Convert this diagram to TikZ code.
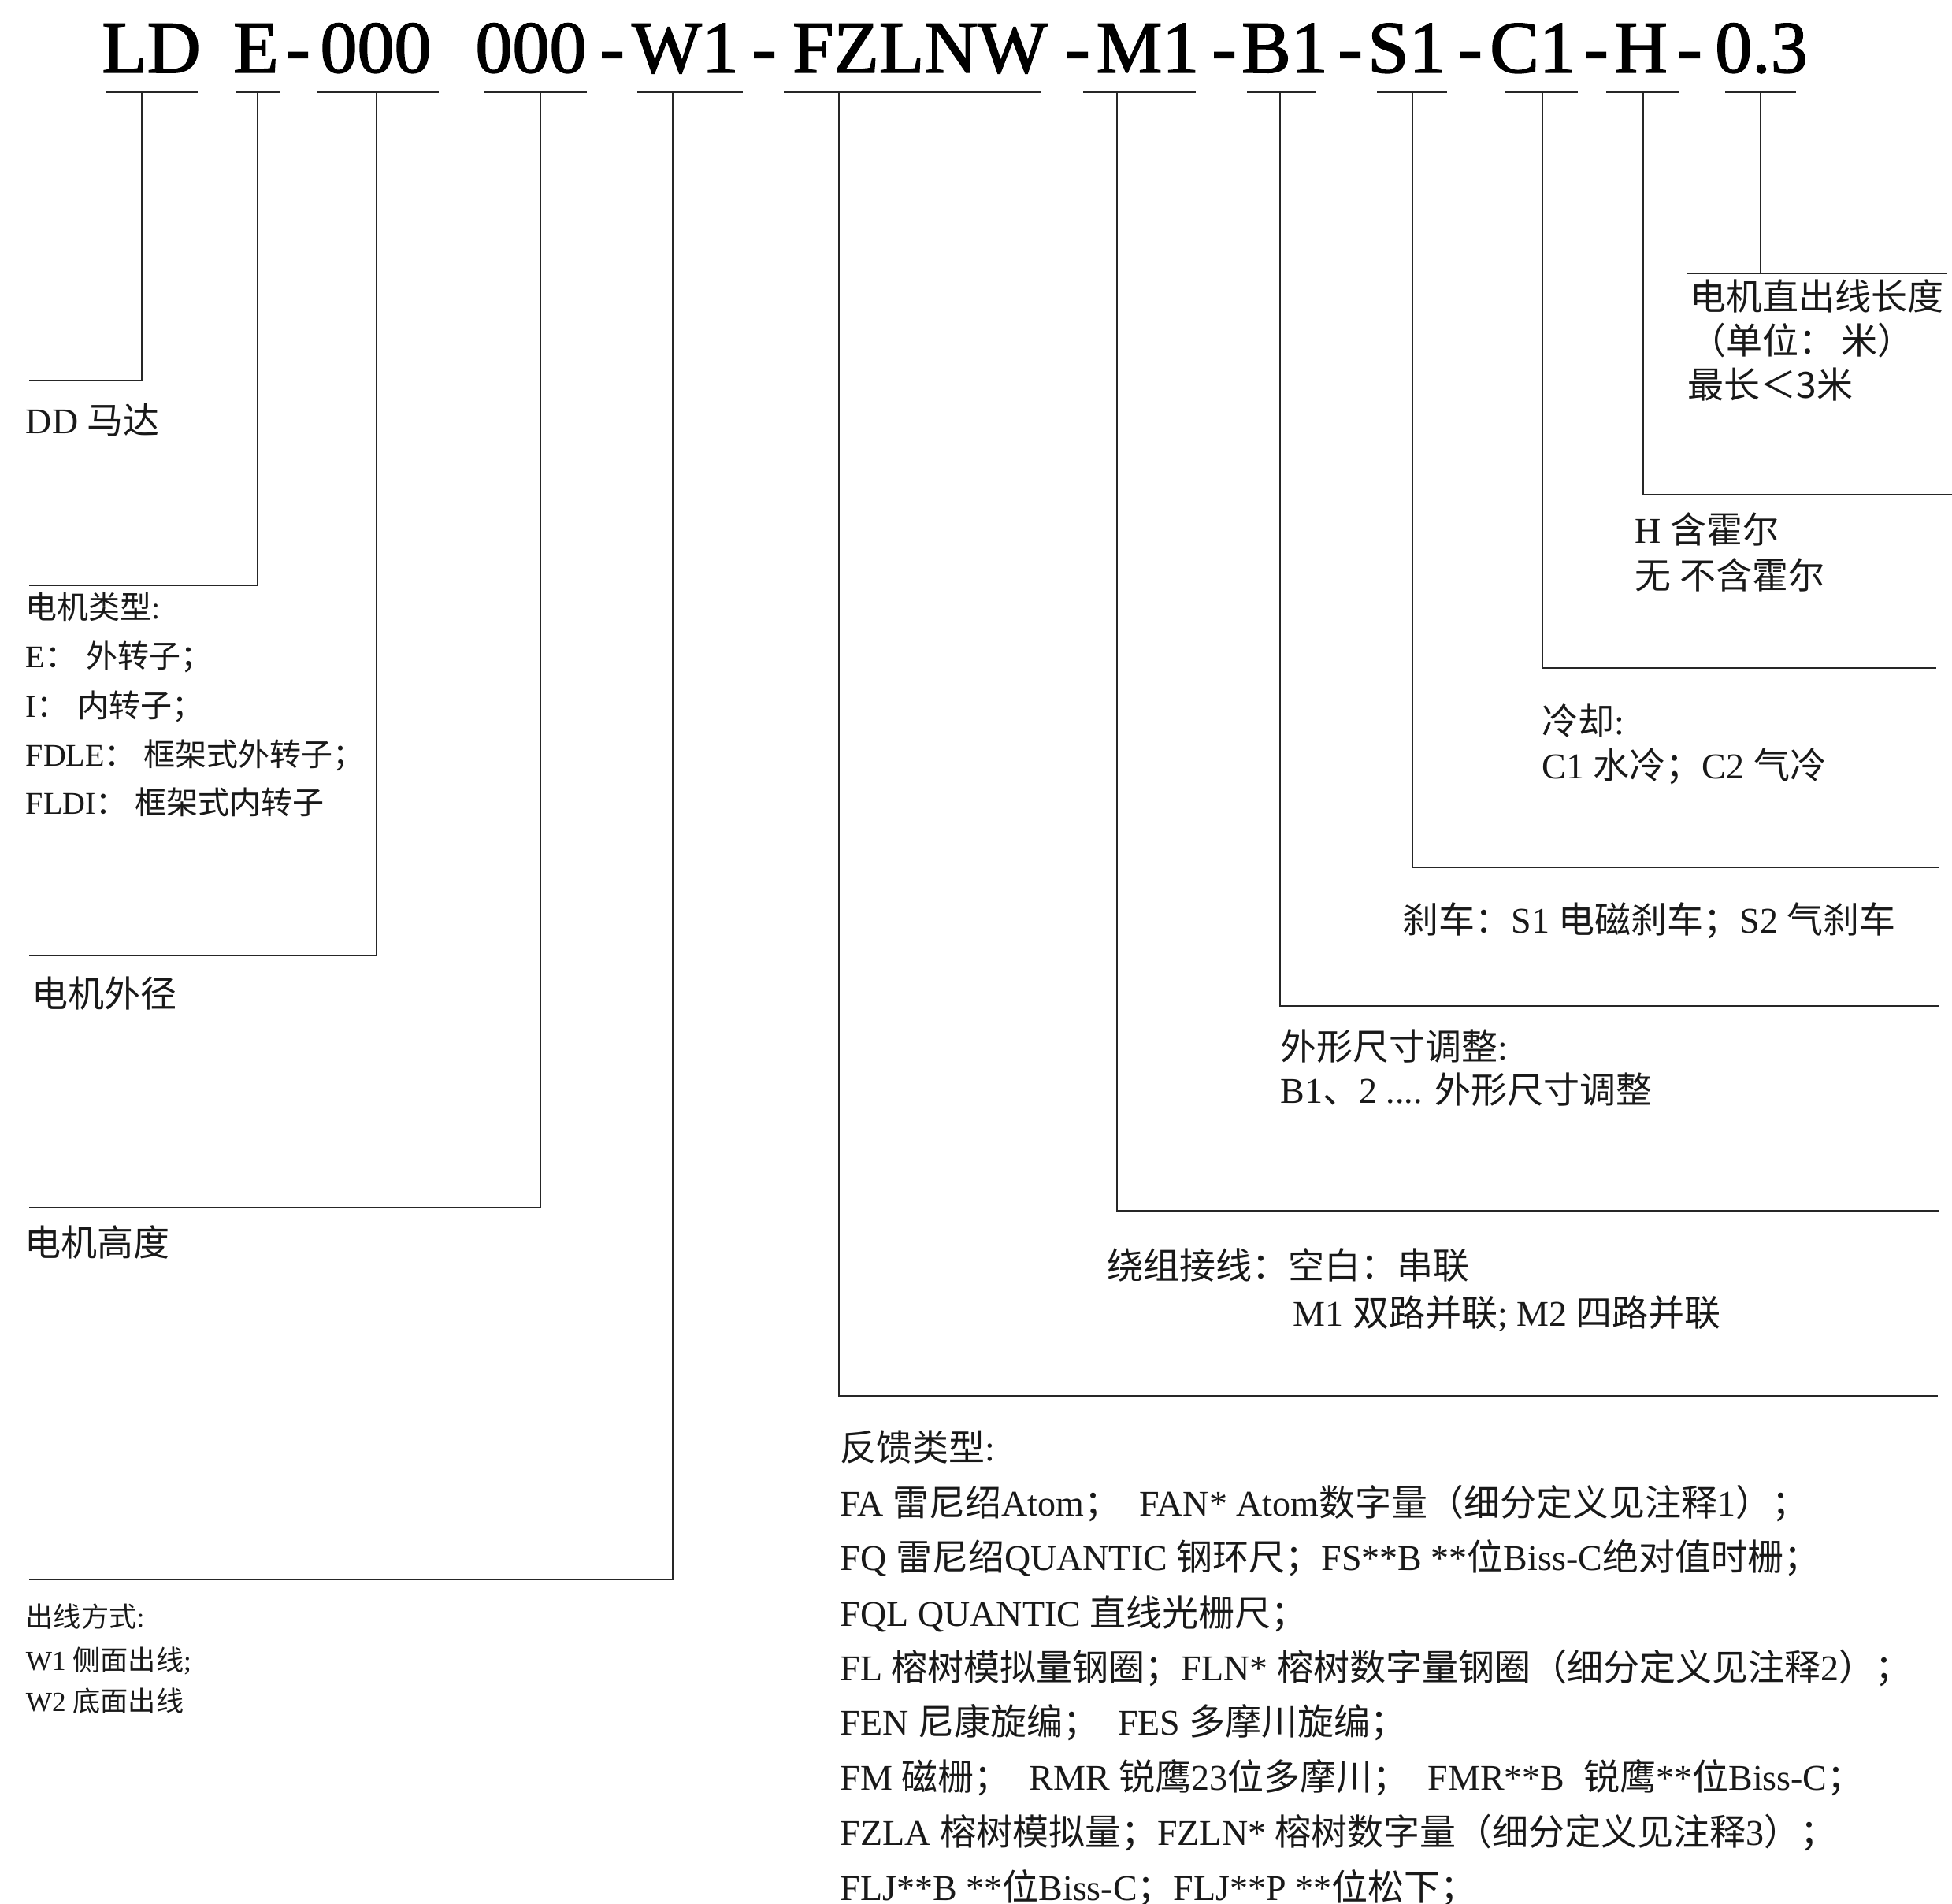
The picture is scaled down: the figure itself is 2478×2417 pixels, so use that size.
\documentclass[tikz,border=0pt]{standalone}
\usepackage{fontspec}
\setmainfont{Liberation Serif}
\newfontfamily\cjk{Noto Sans CJK SC}
\newfontfamily\codefont[FakeBold=1.6]{Liberation Serif}
\newcommand\zh[1]{{\cjk #1}}
\begin{document}
\begin{tikzpicture}[x=0.25pt,y=-0.25pt]
\tikzset{
  lead/.style={draw=black!85, line width=0.7pt},
  code/.style={font=\fontsize{23.5}{28}\selectfont\codefont, text=black, inner sep=0pt, anchor=base},
  lbl/.style={font=\fontsize{11.5}{14}\selectfont, text=black!90, inner sep=0pt, anchor=base west},
  lblsm/.style={lbl, font=\fontsize{10}{12}\selectfont},
  lblxs/.style={lbl, font=\fontsize{8.8}{11}\selectfont},
}
\fill[white] (0,0) rectangle (2478,2417);
\useasboundingbox (0,0) rectangle (2478,2417);

% ---- code string ----
\node[code] (cLD) at (192,92) {LD};
\node[code] (cE) at (325,92) {E};
\node[code] (h1) at (378,92) {-};
\node[code] (cOD) at (477,92) {000};
\node[code] (cHT) at (674,92) {000};
\node[code] (h2) at (777,92) {-};
\node[code] (cW) at (870,92) {W1};
\node[code] (h3) at (970,92) {-};
\node[code] (cF) at (1168,92) {FZLNW};
\node[code] (h4) at (1368,92) {-};
\node[code] (cM) at (1457,92) {M1};
\node[code] (h5) at (1554,92) {-};
\node[code] (cB) at (1631,92) {B1};
\node[code] (h6) at (1714,92) {-};
\node[code] (cS) at (1786,92) {S1};
\node[code] (h7) at (1866,92) {-};
\node[code] (cC) at (1946,92) {C1};
\node[code] (h8) at (2026,92) {-};
\node[code] (cH) at (2083,92) {H};
\node[code] (h9) at (2145,92) {-};
\node[code] (cL) at (2236,92) {0.3};

% ---- underlines and leaders ----
\foreach \n/\ua/\ub/\dx/\ky/\xe in {
  a/134/251/180/483/37,
  b/300/356/327/743/37,
  c/403/557/478/1213/37,
  d/615/745/686/1533/37,
  e/809/943/854/2005/37,
  f/995/1321/1065/1772/2460,
  g/1375/1518/1418/1537/2461,
  h/1583/1671/1625/1277/2461,
  i/1748/1837/1793/1101/2461,
  j/1911/2003/1958/848/2458,
  k/2039/2131/2086/628/2478,
  l/2190/2280/2235/347/2235}
{
  \coordinate (ul\n) at (\ua,117);
  \coordinate (ur\n) at (\ub,117);
  \coordinate (top\n) at (\dx,117);
  \coordinate (knee\n) at (\dx,\ky);
  \coordinate (end\n) at (\xe,\ky);
  \draw[lead] (ul\n) -- (ur\n);
  \draw[lead] (top\n) -- (knee\n) -- (end\n);
}
\coordinate (tl) at (2142,347);
\coordinate (tr) at (2472,347);
\draw[lead] (tl) -- (tr);

% ---- left labels ----
\node[lbl] (dd) at (32,551) {DD \zh{马达}};
\node[lblsm] (mt0) at (32,786) {\zh{电机类型}:};
\node[lblsm] (mt1) at (32,848) {E\zh{：}\hspace{3pt}\zh{外转子；}};
\node[lblsm] (mt2) at (32,911) {I\zh{：}\hspace{3pt}\zh{内转子；}};
\node[lblsm] (mt3) at (32,973) {FDLE\zh{：}\hspace{2.5pt}\zh{框架式外转子；}};
\node[lblsm] (mt4) at (32,1034) {FLDI\zh{：}\hspace{2.5pt}\zh{框架式内转子}};
\node[lbl] (od) at (40,1279) {\zh{电机外径}};
\node[lbl] (ht) at (31,1595) {\zh{电机高度}};
\node[lblxs] (w0) at (32,2066) {\zh{出线方式}:};
\node[lblxs] (w1) at (32,2120) {W1 \zh{侧面出线};};
\node[lblxs] (w2) at (32,2173) {W2 \zh{底面出线}};

% ---- feedback block ----
\node[lbl] (f0) at (1066,1855) {\zh{反馈类型}:};
\node[lbl] (f1) at (1066,1925) {FA \zh{雷尼绍}Atom\zh{；}\hspace{6pt}FAN* Atom\zh{数字量（细分定义见注释}1\zh{）；}};
\node[lbl] (f2) at (1066,1994) {FQ \zh{雷尼绍}QUANTIC \zh{钢环尺；}FS**B **\zh{位}Biss-C\zh{绝对值时栅；}};
\node[lbl] (f3) at (1066,2064) {FQL QUANTIC \zh{直线光栅尺；}};
\node[lbl] (f4) at (1066,2133) {FL \zh{榕树模拟量钢圈；}FLN* \zh{榕树数字量钢圈（细分定义见注释}2\zh{）；}};
\node[lbl] (f5) at (1066,2203) {FEN \zh{尼康旋编；}\hspace{6pt}FES \zh{多摩川旋编；}};
\node[lbl] (f6) at (1066,2273) {FM \zh{磁栅；}\hspace{6pt}RMR \zh{锐鹰}23\zh{位多摩川；}\hspace{6pt}FMR**B\hspace{6pt}\zh{锐鹰}**\zh{位}Biss-C\zh{；}};
\node[lbl] (f7) at (1066,2342) {FZLA \zh{榕树模拟量；}FZLN* \zh{榕树数字量（细分定义见注释}3\zh{）；}};
\node[lbl] (f8) at (1066,2412) {FLJ**B **\zh{位}Biss-C\zh{；}FLJ**P **\zh{位松下；}};

% ---- right labels ----
\node[lbl] (m0) at (1405,1624) {\zh{绕组接线：空白：串联}};
\node[lbl] (m1) at (1641,1684) {M1 \zh{双路并联}; M2 \zh{四路并联}};
\node[lbl] (b0) at (1625,1346) {\zh{外形尺寸调整}:};
\node[lbl] (b1) at (1625,1401) {B1\zh{、}2 .... \zh{外形尺寸调整}};
\node[lbl] (s0) at (1780,1185) {\zh{刹车：}S1 \zh{电磁刹车；}S2 \zh{气刹车}};
\node[lbl] (k0) at (1957,933) {\zh{冷却}:};
\node[lbl] (k1) at (1957,989) {C1 \zh{水冷；}C2 \zh{气冷}};
\node[lbl] (hh0) at (2075,690) {H \zh{含霍尔}};
\node[lbl] (hh1) at (2075,748) {\zh{无 不含霍尔}};
\node[lbl] (len0) at (2145,394) {\zh{电机直出线长度}};
\node[lbl] (len1) at (2145,450) {\zh{（单位：}\hspace{2pt}\zh{米）}};
\node[lbl] (len2) at (2142,506) {\zh{最长＜3米}};
\end{tikzpicture}
\end{document}
